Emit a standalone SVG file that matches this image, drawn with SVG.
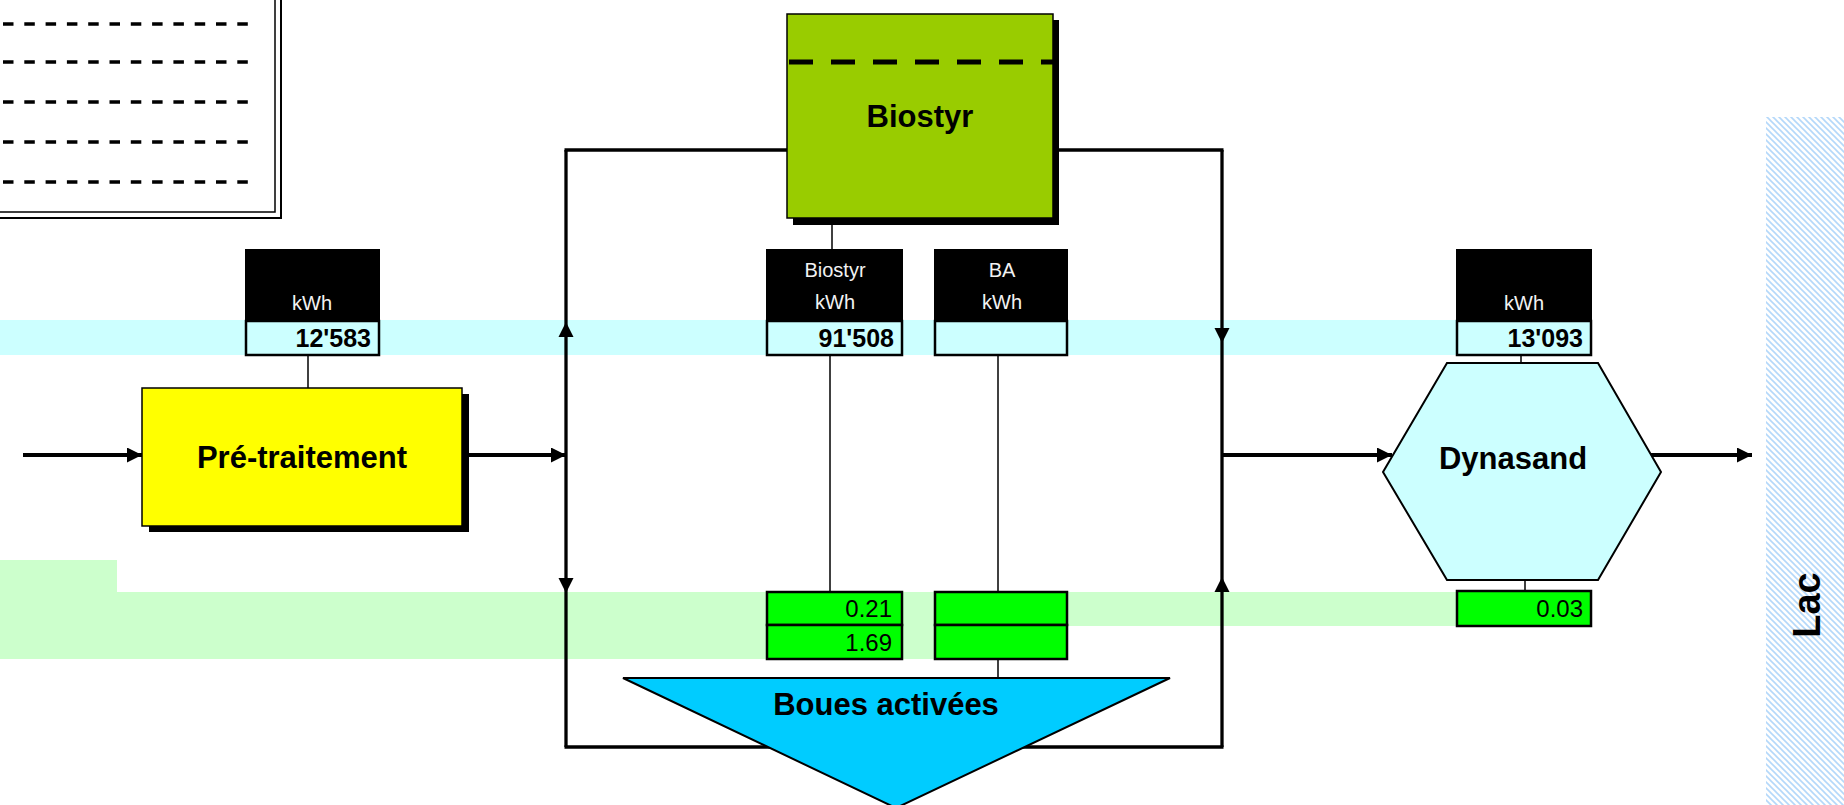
<svg xmlns="http://www.w3.org/2000/svg" width="1844" height="805" viewBox="0 0 1844 805">
<style>
.big{font-family:"Liberation Sans",Arial,sans-serif;font-weight:bold;font-size:31px;fill:#000;text-anchor:middle}
.hdr{font-family:"Liberation Sans",Arial,sans-serif;font-size:20px;fill:#f2f2f2;text-anchor:middle}
.val{font-family:"Liberation Sans",Arial,sans-serif;font-weight:bold;font-size:25px;fill:#000;text-anchor:end}
.num{font-family:"Liberation Sans",Arial,sans-serif;font-size:24px;fill:#000;text-anchor:end}
.blk{fill:#000;stroke:#000;stroke-width:2}
.cy{fill:#ccffff;stroke:#000;stroke-width:2.5}
.gr{fill:#00ff00;stroke:#000;stroke-width:2.5}
.thin{stroke:#000;stroke-width:1.5;fill:none}
.loop{stroke:#000;stroke-width:3.3;fill:none}
.flow{stroke:#000;stroke-width:4;fill:none;marker-end:url(#ah)}
.dash{stroke:#000;stroke-width:3.5;stroke-dasharray:10.5 10.8}
</style>
<defs>
<marker id="ah" markerUnits="userSpaceOnUse" markerWidth="16" markerHeight="16" refX="15" refY="7.5" orient="auto">
<path d="M0,0 L15,7.5 L0,15 z" fill="#000"/>
</marker>
<pattern id="hatch" patternUnits="userSpaceOnUse" width="6" height="6">
<rect width="6" height="6" fill="#ffffff"/>
<path d="M-1,-1 L7,7 M-1,5 L1,7 M5,-1 L7,1" stroke="#b4d8fa" stroke-width="1.6"/>
</pattern>
</defs>
<rect width="1844" height="805" fill="#ffffff"/>

<g id="bands">
<rect x="0" y="320" width="1457" height="35" fill="#ccffff"/>
<path d="M0,560 H117 V592 H1457 V626 H1067 V659 H0 Z" fill="#ccffcc"/>
</g>

<g id="legend">
<rect x="-10" y="-10" width="291" height="228" fill="#ffffff" stroke="#000" stroke-width="2"/>
<rect x="-10" y="-10" width="285" height="222" fill="none" stroke="#000" stroke-width="1.5"/>
<line class="dash" x1="3" y1="24" x2="250" y2="24"/>
<line class="dash" x1="3" y1="62" x2="250" y2="62"/>
<line class="dash" x1="3" y1="102" x2="250" y2="102"/>
<line class="dash" x1="3" y1="142" x2="250" y2="142"/>
<line class="dash" x1="3" y1="182" x2="250" y2="182"/>
</g>

<g id="lac">
<rect x="1766" y="117" width="78" height="688" fill="url(#hatch)"/>
<text class="big" transform="translate(1820,605) rotate(-90)" style="font-size:38px">Lac</text>
</g>

<g id="connectors">
<line class="loop" x1="566" y1="150" x2="566" y2="747"/>
<line class="loop" x1="1222" y1="150" x2="1222" y2="747"/>
<line class="loop" x1="564.5" y1="150" x2="787" y2="150"/>
<line class="loop" x1="1053" y1="150" x2="1223.5" y2="150"/>
<line class="loop" x1="564.5" y1="747" x2="1223.5" y2="747"/>
<polygon points="566,322 558.5,337 573.5,337" fill="#000"/>
<polygon points="566,593 558.5,578 573.5,578" fill="#000"/>
<polygon points="1222,343 1214.5,328 1229.5,328" fill="#000"/>
<polygon points="1222,577 1214.5,592 1229.5,592" fill="#000"/>
<line class="flow" x1="23" y1="455" x2="142" y2="455"/>
<line class="flow" x1="469" y1="455" x2="566" y2="455"/>
<line class="flow" x1="1222" y1="455" x2="1392" y2="455"/>
<line class="flow" x1="1651" y1="455" x2="1752" y2="455"/>
<line class="thin" x1="308" y1="355" x2="308" y2="388"/>
<line class="thin" x1="832" y1="218" x2="832" y2="250"/>
<line class="thin" x1="830" y1="355" x2="830" y2="592"/>
<line class="thin" x1="998" y1="355" x2="998" y2="592"/>
<line class="thin" x1="998" y1="659" x2="998" y2="678"/>
<line class="thin" x1="1521" y1="355" x2="1521" y2="363"/>
<line class="thin" x1="1525" y1="580" x2="1525" y2="591"/>
</g>

<g id="pretraitement">
<rect x="149" y="394" width="320" height="138" fill="#000"/>
<rect x="142" y="388" width="320" height="138" fill="#ffff00" stroke="#000" stroke-width="1.5"/>
<text class="big" x="302" y="468">Pré-traitement</text>
</g>

<g id="biostyr">
<rect x="793" y="20" width="266" height="205" fill="#000"/>
<rect x="787" y="14" width="266" height="204" fill="#99cc00" stroke="#000" stroke-width="1.5"/>
<line x1="789" y1="62" x2="1053" y2="62" stroke="#000" stroke-width="5" stroke-dasharray="24 18"/>
<text class="big" x="920" y="127">Biostyr</text>
</g>

<g id="boues-activees">
<polygon points="623,678 1170,678 896,808" fill="#00ccff" stroke="#000" stroke-width="2"/>
<text class="big" x="886" y="715">Boues activées</text>
</g>

<g id="dynasand">
<polygon points="1447,363 1598,363 1661,472 1598,580 1447,580 1383,472" fill="#ccffff" stroke="#000" stroke-width="2"/>
<text class="big" x="1513" y="469">Dynasand</text>
</g>

<g id="meter-pre">
<rect class="blk" x="246" y="250" width="133" height="71"/>
<text class="hdr" x="312" y="310">kWh</text>
<rect class="cy" x="246" y="321" width="133" height="34"/>
<text class="val" x="371" y="347">12'583</text>
</g>

<g id="meter-biostyr">
<rect class="blk" x="767" y="250" width="135" height="71"/>
<text class="hdr" x="835" y="277">Biostyr</text>
<text class="hdr" x="835" y="309">kWh</text>
<rect class="cy" x="767" y="321" width="135" height="34"/>
<text class="val" x="894" y="347">91'508</text>
</g>

<g id="meter-ba">
<rect class="blk" x="935" y="250" width="132" height="71"/>
<text class="hdr" x="1002" y="277">BA</text>
<text class="hdr" x="1002" y="309">kWh</text>
<rect class="cy" x="935" y="321" width="132" height="34"/>
</g>

<g id="meter-dynasand">
<rect class="blk" x="1457" y="250" width="134" height="71"/>
<text class="hdr" x="1524" y="310">kWh</text>
<rect class="cy" x="1457" y="321" width="134" height="34"/>
<text class="val" x="1583" y="347">13'093</text>
</g>

<g id="ratio-biostyr">
<rect class="gr" x="767" y="592" width="135" height="33"/>
<rect class="gr" x="767" y="625" width="135" height="34"/>
<text class="num" x="892" y="617">0.21</text>
<text class="num" x="892" y="651">1.69</text>
</g>

<g id="ratio-ba">
<rect class="gr" x="935" y="592" width="132" height="33"/>
<rect class="gr" x="935" y="625" width="132" height="34"/>
</g>

<g id="ratio-dynasand">
<rect class="gr" x="1457" y="591" width="134" height="35"/>
<text class="num" x="1583" y="617">0.03</text>
</g>
</svg>
